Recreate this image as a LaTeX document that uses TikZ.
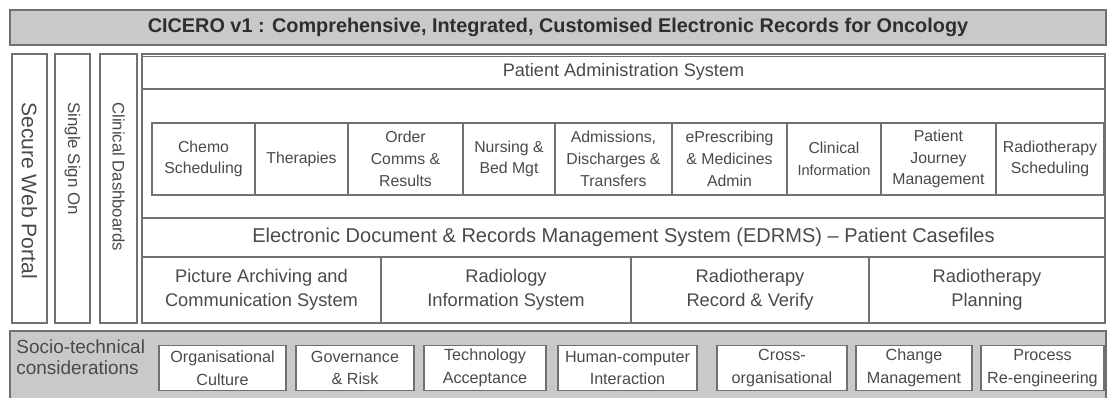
\documentclass[tikz,border=0pt]{standalone}
\usepackage{fontspec}
\setmainfont{Liberation Sans}
\usepackage{xcolor}
\usetikzlibrary{positioning}
\definecolor{frame}{HTML}{707070}
\definecolor{shade}{HTML}{C9C9C9}
\definecolor{ink}{HTML}{4A4A4A}
\definecolor{darkink}{HTML}{2E2E2E}
\tikzset{
  line/.style={draw=frame, line width=0.8pt},
  cell/.style={line, fill=white, inner sep=1pt, align=center, text=ink},
  sz/.style n args={2}{minimum width=(#1)*0.02cm, minimum height=(#2)*0.02cm},
  modtxt/.style={font=\fontsize{9}{12.4}\selectfont},
  rowtxt/.style={font=\fontsize{10.4}{13.6}\selectfont},
  soctxt/.style={font=\fontsize{9.2}{13}\selectfont},
  vtxt/.style={text=ink, inner sep=0pt, rotate=-90, anchor=west},
}
\begin{document}
\begin{tikzpicture}[x=0.02cm,y=-0.02cm]
    \useasboundingbox (0,0) rectangle (1107,398);
    % Title bar
    \node[line, fill=shade, sz={1096}{35}, text=darkink, font=\fontsize{11.3}{13}\selectfont\bfseries] (title) at (558,27.5)
        {CICERO v1 : Comprehensive, Integrated, Customised Electronic Records for Oncology};

    % Vertical bars
    \node[cell, sz={35}{269}] (swp) at (29.5,188.5) {};
    \node[cell, sz={35}{269}] (sso) at (72.5,188.5) {};
    \node[cell, sz={37}{269}] (cd) at (118.5,188.5) {};
    \node[vtxt, font=\fontsize{12}{13}\selectfont] (swpt) at (29.5,102) {Secure Web Portal};
    \node[vtxt, font=\fontsize{9.6}{11}\selectfont] (ssot) at (72.5,102) {Single Sign On};
    \node[vtxt, font=\fontsize{9.5}{11}\selectfont] (cdt) at (118.5,102) {Clinical Dashboards};

    % Main block
    \node[cell, sz={963}{269}] (main) at (623.5,188.5) {};
    \node[cell, sz={963}{35}, font=\fontsize{10.3}{12}\selectfont] (pas) at (623.5,71.5) {Patient Administration System};
    \draw[frame, line width=0.4pt] ([yshift=-0.07cm]pas.north west) -- ([yshift=-0.07cm]pas.north east);

    % PAS modules
    \foreach \a/\b/\txt [count=\i] in {152/255/{Chemo\\Scheduling}, 255/348/{Therapies}, 348/463/{Order\\Comms \&\\Results},
        463/555/{Nursing \&\\Bed Mgt}, 555/672/{Admissions,\\Discharges \&\\Transfers}, 672/787/{ePrescribing\\\& Medicines\\Admin},
        787/881/{Clinical\\{\fontsize{8.3}{12}\selectfont Information}}, 881/996/{Patient\\Journey\\Management}, 996/1104/{Radiotherapy\\Scheduling}}
        \node[cell, modtxt, sz={\b-\a}{72}] (mod\i) at ({(\a+\b)/2},159) {\txt};

    % EDRMS
    \node[cell, sz={963}{39}, line width=1pt, font=\fontsize{11.4}{13}\selectfont] (edrms) at (623.5,237.5)
        {Electronic Document \& Records Management System (EDRMS) -- Patient Casefiles};

    % Clinical systems row
    \foreach \a/\b/\txt [count=\i] in {142/381/{Picture Archiving and\\Communication System}, 381/631/{Radiology\\Information System},
        631/869/{Radiotherapy\\Record \& Verify}, 869/1105/{Radiotherapy\\Planning}}
        \node[cell, rowtxt, sz={\b-\a}{66}] (sys\i) at ({(\a+\b)/2},290) {\txt};

    % Socio-technical considerations
    \node[line, fill=shade, sz={1096}{70}] (soc) at (558,366) {};
    \node[anchor=north west, align=left, text=ink, inner sep=0pt, font=\fontsize{10.8}{12}\selectfont] (soct) at (16,339)
        {Socio-technical\\considerations};
    \foreach \a/\b/\txt [count=\i] in {159/286/{Organisational\\Culture}, 296/414/{Governance\\\& Risk}, 424/546/{Technology\\Acceptance},
        558/697/{Human-computer\\Interaction}, 717/847/{Cross-\\organisational}, 856/972/{Change\\Management}, 981/1104/{Process\\Re-engineering}}
        \node[cell, soctxt, sz={\b-\a}{45}] (st\i) at ({(\a+\b)/2},368) {\txt};
\end{tikzpicture}
\end{document}
